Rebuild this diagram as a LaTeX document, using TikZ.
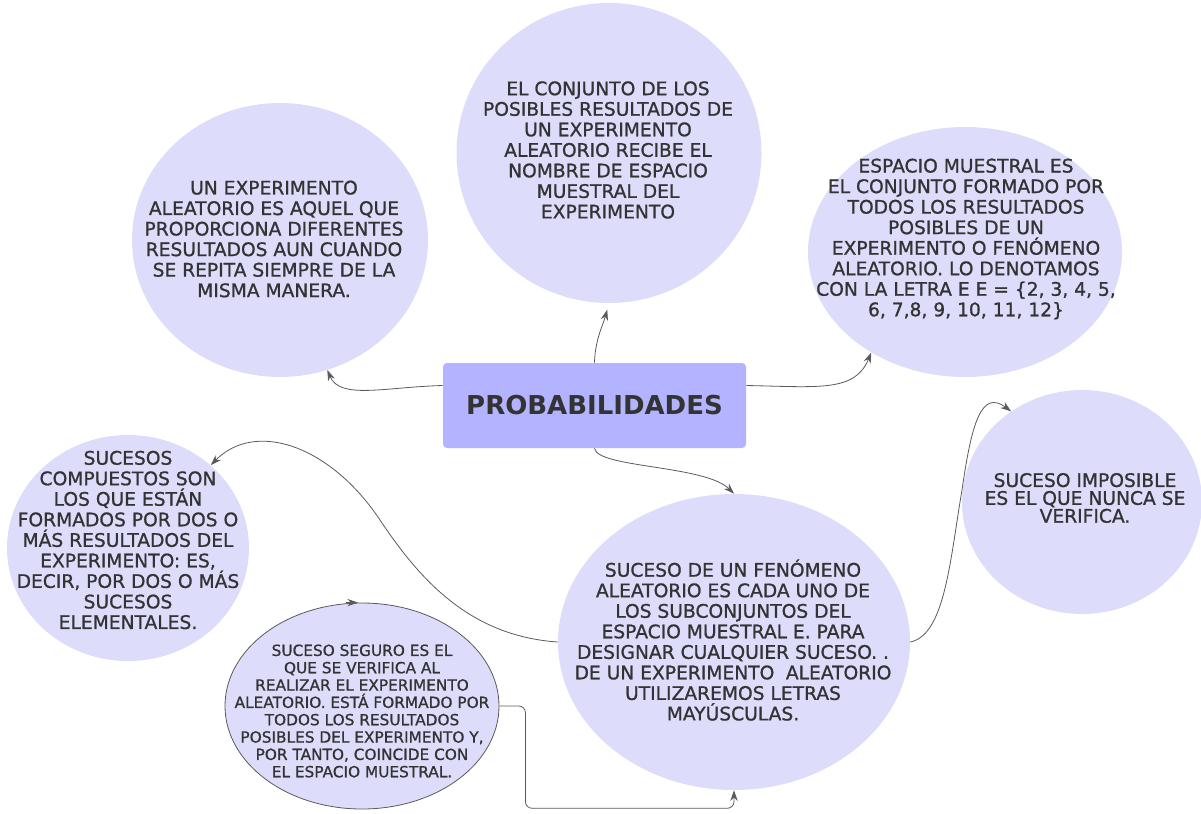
\documentclass[tikz,border=0pt]{standalone}
\usepackage{fontspec}
\setmainfont{DejaVu Sans}
\newfontfamily\medfont{DejaVu Sans}[FakeBold=1]
\usetikzlibrary{shapes.geometric,arrows.meta,calc}
\definecolor{bubfill}{HTML}{DDDDFB}
\definecolor{boxfill}{HTML}{B3B3FF}
\definecolor{ink}{HTML}{333333}
\definecolor{wire}{HTML}{5A5A5A}
\begin{document}
\begin{tikzpicture}[x=0.75pt,y=-0.75pt,
  bub/.style={ellipse,fill=bubfill,draw=none,inner sep=0pt},
  txt/.style={align=center,text=ink,font=\medfont\fontsize{14}{15.4}\selectfont,inner sep=0pt},
  smalltxt/.style={align=center,text=ink,font=\medfont\fontsize{11.5}{13}\selectfont,inner sep=0pt},
  conn/.style={draw=wire,line width=0.6pt,-{Stealth[length=8pt,width=5.5pt]}},
]
\useasboundingbox (0,0) rectangle (1201,813);

% bubbles
\node[bub,minimum width=222pt,minimum height=205.5pt] (c1) at (280,240) {};
\node[txt] (t1) at (274,239) {UN EXPERIMENTO\\ALEATORIO ES AQUEL QUE\\PROPORCIONA DIFERENTES\\RESULTADOS AUN CUANDO\\SE REPITA SIEMPRE DE LA\\MISMA MANERA.};

\node[bub,minimum width=228.75pt,minimum height=225pt] (c2) at (609,153) {};
\node[txt] (t2) at (608,150) {EL CONJUNTO DE LOS\\POSIBLES RESULTADOS DE\\UN EXPERIMENTO\\ALEATORIO RECIBE EL\\NOMBRE DE ESPACIO\\MUESTRAL DEL\\EXPERIMENTO};

\node[bub,minimum width=235.5pt,minimum height=187.5pt] (c3) at (965,252) {};
\node[txt] (t3) at (966,239) {ESPACIO MUESTRAL ES\\EL CONJUNTO FORMADO POR\\TODOS LOS RESULTADOS\\POSIBLES DE UN\\EXPERIMENTO O FENÓMENO\\ALEATORIO. LO DENOTAMOS\\CON LA LETRA E E = \{2, 3, 4, 5,\\6, 7,8, 9, 10, 11, 12\}};

\node[bub,minimum width=181.5pt,minimum height=169.5pt] (c4) at (128,548) {};
\node[txt] (t4) at (128,540) {SUCESOS\\COMPUESTOS SON\\LOS QUE ESTÁN\\FORMADOS POR DOS O\\MÁS RESULTADOS DEL\\EXPERIMENTO: ES,\\DECIR, POR DOS O MÁS\\SUCESOS\\ELEMENTALES.};

\node[bub,minimum width=264pt,minimum height=222pt] (sc) at (734,642) {};
\node[txt] (tsc) at (733,640) {SUCESO DE UN FENÓMENO\\ALEATORIO ES CADA UNO DE\\LOS SUBCONJUNTOS DEL\\ESPACIO MUESTRAL E. PARA\\DESIGNAR CUALQUIER SUCESO. .\\DE UN EXPERIMENTO\hspace{0.3em} ALEATORIO\\UTILIZAREMOS LETRAS\\MAYÚSCULAS.};

\node[bub,draw=wire,line width=0.6pt,minimum width=205.5pt,minimum height=154.5pt] (seg) at (362,706) {};
\node[smalltxt] (tseg) at (362,711) {SUCESO SEGURO ES EL\\QUE SE VERIFICA AL\\REALIZAR EL EXPERIMENTO\\ALEATORIO. ESTÁ FORMADO POR\\TODOS LOS RESULTADOS\\POSIBLES DEL EXPERIMENTO Y,\\POR TANTO, COINCIDE CON\\EL ESPACIO MUESTRAL.};

\node[bub,minimum width=180pt,minimum height=168pt] (imp) at (1082,502) {};
\node[txt,font=\medfont\fontsize{14}{13.4}\selectfont] (timp) at (1085,498) {SUCESO IMPOSIBLE\\ES EL QUE NUNCA SE\\VERIFICA.};

% central box
\node[fill=boxfill,rounded corners=3pt,minimum width=227.25pt,minimum height=63.75pt,
      text=ink,font=\bfseries\fontsize{19.5}{22}\selectfont] (box) at (594.5,405.5) {PROBABILIDADES};

% connectors
\draw[conn] ($(box.west)+(0,-20)$) .. controls (385,387) and (340,400) .. (c1.-70);
\draw[conn,shorten >=5pt] (box.north) .. controls (595,340) and (603,325) .. (c2.south);
\draw[conn] ($(box.east)+(0,-20)$) .. controls (820,387) and (855,392) .. (c3.227);
\draw[conn] (box.south) .. controls (597,468) and (705,465) .. (sc.north);
\draw[conn] (sc.west) .. controls (470,636) and (420,580) .. (380,520) .. controls (330,445) and (255,420) .. (c4.45);
\draw[conn,rounded corners=5pt] (seg.east) -- ++(26,0) |- ($(sc.south)+(0,18)$) -- (sc.south);
\draw[conn] ($(seg.north)+(-16,0)$) -- ($(seg.north)+(-4,0)$);
\draw[conn] (sc.east) .. controls (945,635) and (950,560) .. (962,490) .. controls (972,420) and (982,390) .. (imp.128);
\end{tikzpicture}
\end{document}
